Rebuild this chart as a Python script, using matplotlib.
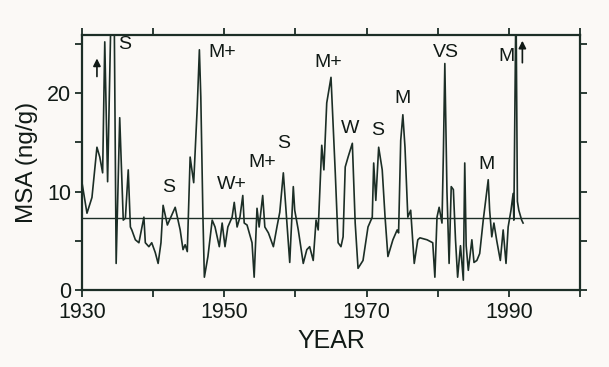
import matplotlib
matplotlib.use("Agg")
import matplotlib.pyplot as plt
from matplotlib.ticker import MultipleLocator

plt.rcParams['font.family'] = ['Liberation Sans', 'DejaVu Sans']

# MSA record
years = [1930.0, 1930.7, 1931.4, 1932.1, 1932.5, 1932.9, 1933.2, 1933.6, 1934.4, 1934.8,
         1935.3, 1935.8, 1936.1, 1936.5, 1936.8, 1937.0, 1937.5, 1938.0, 1938.7, 1938.9,
         1939.4, 1939.8, 1940.3, 1940.7, 1941.1, 1941.4, 1942.0, 1943.1, 1943.8, 1944.2,
         1944.5, 1944.8, 1945.2, 1945.7, 1946.2, 1946.5, 1946.7, 1947.0, 1947.2, 1947.7,
         1948.3, 1948.7, 1949.3, 1949.7, 1950.1, 1950.5, 1951.1, 1951.4, 1951.8, 1952.2,
         1952.6, 1952.8, 1953.2, 1953.9, 1954.2, 1954.6, 1954.9, 1955.4, 1955.7, 1956.2,
         1956.9, 1957.4, 1957.8, 1958.3, 1958.8, 1959.2, 1959.7, 1959.9, 1960.4, 1961.1,
         1961.6, 1962.0, 1962.5, 1962.9, 1963.2, 1963.7, 1964.0, 1964.4, 1965.0, 1965.6,
         1966.0, 1966.4, 1966.7, 1967.0, 1967.4, 1968.0, 1968.4, 1968.8, 1969.5, 1970.2,
         1970.8, 1971.0, 1971.3, 1971.7, 1972.2, 1972.6, 1973.0, 1973.7, 1974.3, 1974.5,
         1974.8, 1975.1, 1975.4, 1975.8, 1976.2, 1976.7, 1977.2, 1977.5, 1978.5, 1979.3,
         1979.6, 1979.9, 1980.2, 1980.6, 1980.8, 1981.0, 1981.3, 1981.6, 1981.9, 1982.2,
         1982.5, 1982.8, 1983.2, 1983.6, 1983.8, 1984.0, 1984.3, 1984.8, 1985.1, 1985.5,
         1985.9, 1986.4, 1987.1, 1987.3, 1987.6, 1987.9, 1988.3, 1988.8, 1989.2, 1989.6,
         1989.9, 1990.3, 1990.6, 1990.7, 1991.0, 1991.2, 1991.4, 1991.8, 1992.0]
msa = [10.9, 7.8, 9.4, 14.5, 13.5, 11.9, 25.2, 11.0, 40.0, 2.7,
       17.5, 7.1, 7.3, 12.2, 6.4, 6.1, 5.1, 4.8, 7.4, 4.8,
       4.4, 4.8, 3.8, 2.7, 4.8, 8.6, 6.6, 8.4, 6.1, 4.1,
       4.6, 3.9, 13.5, 10.9, 18.6, 24.4, 19.6, 7.4, 1.3, 3.4,
       7.1, 6.4, 4.4, 6.8, 4.4, 6.4, 7.4, 8.9, 6.4, 7.4,
       9.6, 6.8, 6.6, 4.8, 1.3, 8.3, 6.4, 9.6, 6.4, 5.8,
       4.4, 6.4, 7.9, 11.9, 6.8, 2.8, 10.5, 8.1, 6.1, 2.7,
       4.1, 4.4, 3.0, 7.1, 6.1, 14.7, 12.2, 19.0, 21.6, 11.9,
       4.8, 4.4, 5.4, 12.5, 13.5, 14.9, 6.8, 2.2, 3.0, 6.4,
       7.4, 12.9, 9.1, 14.5, 12.2, 7.4, 3.4, 5.1, 6.1, 5.8,
       15.2, 17.8, 14.5, 7.4, 8.1, 2.7, 5.1, 5.3, 5.1, 4.8,
       1.3, 7.4, 8.4, 6.8, 14.0, 23.0, 10.0, 2.7, 10.5, 10.2,
       5.1, 1.3, 4.5, 1.0, 12.9, 4.5, 2.0, 5.1, 2.8, 3.0,
       3.7, 7.1, 11.2, 8.1, 5.4, 6.8, 5.0, 3.0, 6.1, 2.7,
       6.4, 8.1, 9.8, 7.1, 30.0, 9.0, 8.1, 7.1, 6.8]
mean_level = 7.3

labels = ['S', 'S', 'M+', 'W+', 'M+', 'S', 'M+', 'W', 'S', 'M', 'VS', 'M', 'M']
label_x = [1936.0, 1942.2, 1949.7, 1951.1, 1955.3, 1958.3, 1964.6, 1967.7, 1971.6, 1975.1, 1981.2, 1986.9, 1989.7]
label_y = [24.9, 10.4, 24.1, 10.7, 12.9, 14.9, 23.1, 16.4, 16.2, 19.5, 24.1, 12.7, 23.7]

arrow_x = [1932.1, 1991.9]
arrow_lo = [21.4, 22.8]
arrow_hi = [23.8, 25.6]

ink = '#1c2e26'
bg = '#fbf9f6'

fig = plt.figure(figsize=(6.09, 3.67), dpi=100, facecolor=bg)
ax = fig.add_axes([82 / 609, 1 - 290 / 367, 498 / 609, 255 / 367])
ax.set_facecolor(bg)

ax.plot(years, msa, color=ink, lw=1.2)
ax.axhline(mean_level, color=ink, lw=1.0)

for t, x, y in zip(labels, label_x, label_y):
    ax.text(x, y, t, fontsize=14, ha='center', va='center', color='#111a16')

for x, lo, hi in zip(arrow_x, arrow_lo, arrow_hi):
    ax.annotate('', xy=(x, hi), xytext=(x, lo),
                arrowprops=dict(arrowstyle='-|>', color='#111a16', lw=1.2, mutation_scale=11))

ax.set_xlim(1930, 2000)
ax.set_ylim(0, 25.9)
ax.set_xticks([1930, 1950, 1970, 1990])
ax.xaxis.set_minor_locator(MultipleLocator(10))
ax.yaxis.set_major_locator(MultipleLocator(10))
ax.yaxis.set_minor_locator(MultipleLocator(5))
ax.tick_params(which='both', direction='out', top=True, right=True,
               labeltop=False, labelright=False, color=ink, width=1.3,
               labelsize=15.5, labelcolor='#111a16')
ax.tick_params(which='both', length=5)
ax.tick_params(axis='x', pad=4)
ax.tick_params(axis='y', pad=3)
for s in ax.spines.values():
    s.set_color(ink)
    s.set_linewidth(1.6)

ax.set_xlabel('YEAR', fontsize=18, color='#111a16', labelpad=4)
ax.set_ylabel('MSA (ng/g)', fontsize=17.5, color='#111a16', labelpad=6)

fig.savefig('out.png', dpi=100, facecolor=bg)
